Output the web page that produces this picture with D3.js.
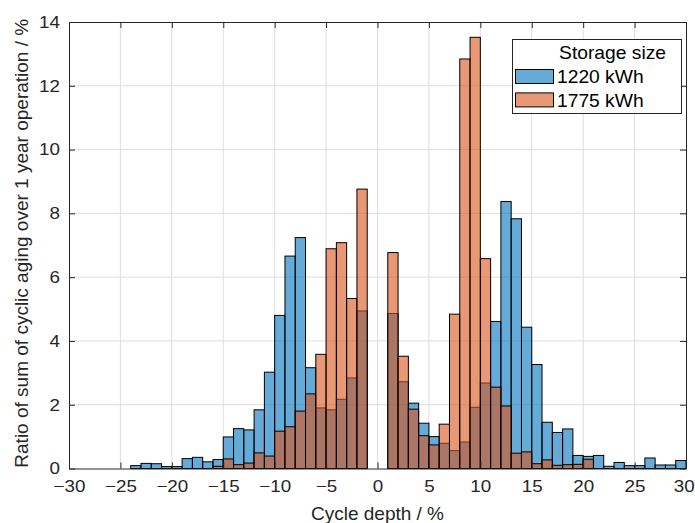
<!DOCTYPE html>
<html>
<head>
<meta charset="utf-8">
<script src="https://cdn.jsdelivr.net/npm/d3@7"></script>
<style>
  body { margin: 0; background: #fff; }
  svg { font-family: "Liberation Sans", Arial, sans-serif; }
</style>
</head>
<body>
<svg id="chart" width="695" height="523"></svg>
<script>
// bin left edges (width 1) and values in %
const binsNeg = [-24, -23, -22, -21, -20, -19, -18, -17, -16, -15, -14, -13, -12, -11, -10, -9, -8, -7, -6, -5, -4, -3, -2];
const binsPos = [1, 2, 3, 4, 5, 6, 7, 8, 9, 10, 11, 12, 13, 14, 15, 16, 17, 18, 19, 20, 21, 22, 23, 24, 25, 26, 27, 28, 29];
const blueNeg = [0.09, 0.16, 0.15, 0.06, 0.06, 0.31, 0.35, 0.21, 0.28, 0.99, 1.25, 1.21, 1.84, 3.02, 4.80, 6.66, 7.24, 3.16, 1.90, 1.84, 2.17, 2.84, 4.94];
const bluePos = [4.86, 2.72, 2.05, 1.42, 1.00, 0.79, 0.56, 0.83, 1.92, 2.68, 4.61, 8.37, 7.83, 4.43, 3.26, 1.45, 1.13, 1.24, 0.41, 0.38, 0.41, 0.07, 0.19, 0.09, 0.09, 0.33, 0.11, 0.11, 0.25];
const orangeNeg = [0, 0, 0, 0, 0, 0, 0, 0, 0.07, 0.30, 0.12, 0.17, 0.49, 0.39, 1.17, 1.31, 1.80, 2.34, 3.58, 6.89, 7.08, 5.33, 8.76];
const orangePos = [6.77, 3.52, 1.86, 1.03, 0.74, 1.39, 4.84, 12.84, 13.52, 6.58, 2.55, 1.96, 0.48, 0.52, 0.15, 0.27, 0.10, 0.12, 0.13, 0.29, 0, 0, 0, 0, 0, 0, 0, 0, 0];
const xTicks = [-30, -25, -20, -15, -10, -5, 0, 5, 10, 15, 20, 25, 30];
const yTicks = [0, 2, 4, 6, 8, 10, 12, 14];
const seriesNames = ["1220 kWh", "1775 kWh"];
const legendTitle = "Storage size";

const bins = binsNeg.concat(binsPos);
const series = [
  {name: seriesNames[0], color: "rgb(0,114,189)", values: blueNeg.concat(bluePos)},
  {name: seriesNames[1], color: "rgb(217,83,25)", values: orangeNeg.concat(orangePos)}
];

const pLeft = 69, pRight = 686, pTop = 22, pBottom = 468.5;
const axisColor = "#262626";
const svg = d3.select("#chart");

// text in the original is a bit wider than Liberation Sans
const tickSize = 16.5, tickStretch = 1.14;
const labelSize = 19;
const legSize = 17.5, legStretch = 1.1;

const x = d3.scaleLinear().domain([-30, 30]).range([pLeft, pRight]);
const y = d3.scaleLinear().domain([0, 14]).range([pBottom, pTop]);

// grid
const grid = svg.append("g").attr("stroke", "#dedede").attr("stroke-width", 1);
grid.selectAll("line.gx").data(xTicks.slice(1, -1)).join("line")
  .attr("x1", d => x(d)).attr("x2", d => x(d)).attr("y1", pTop).attr("y2", pBottom);
grid.selectAll("line.gy").data(yTicks.slice(1, -1)).join("line")
  .attr("y1", d => y(d)).attr("y2", d => y(d)).attr("x1", pLeft).attr("x2", pRight);

// bars
for (const s of series) {
  const data = bins.map((b, i) => ({b: b, v: s.values[i]})).filter(d => d.v > 0);
  svg.append("g").selectAll("rect").data(data).join("rect")
    .attr("x", d => x(d.b))
    .attr("width", d => x(d.b + 1) - x(d.b))
    .attr("y", d => y(d.v))
    .attr("height", d => y(0) - y(d.v))
    .attr("fill", s.color)
    .attr("fill-opacity", 0.6)
    .attr("stroke", "#000")
    .attr("stroke-width", 1);
}

// axes (box with inner ticks on all sides)
const tl = 6;
const fmt = d3.format("d");
const xb = svg.append("g").attr("transform", `translate(0,${pBottom})`)
  .call(d3.axisBottom(x).tickValues(xTicks).tickSizeInner(-tl).tickSizeOuter(0).tickPadding(12).tickFormat(fmt));
const xt = svg.append("g").attr("transform", `translate(0,${pTop})`)
  .call(d3.axisTop(x).tickValues(xTicks).tickSizeInner(-tl).tickSizeOuter(0).tickFormat(""));
const yl = svg.append("g").attr("transform", `translate(${pLeft},0)`)
  .call(d3.axisLeft(y).tickValues(yTicks).tickSizeInner(-tl).tickSizeOuter(0).tickFormat(fmt));
const yr = svg.append("g").attr("transform", `translate(${pRight},0)`)
  .call(d3.axisRight(y).tickValues(yTicks).tickSizeInner(-tl).tickSizeOuter(0).tickFormat(""));

for (const g of [xb, xt, yl, yr]) {
  g.select(".domain").attr("stroke", axisColor).attr("stroke-width", 1);
  g.selectAll(".tick line").attr("stroke", axisColor);
  g.selectAll(".tick text").attr("fill", axisColor).style("font-size", tickSize + "px")
    .style("font-family", '"Liberation Sans", Arial, sans-serif')
    .attr("transform", `scale(${tickStretch},1)`);
}
yl.selectAll(".tick text").attr("x", -9 / tickStretch);
// keep the last x label inside the page
xb.selectAll(".tick text").filter(d => d === 30).attr("x", -2);

// axis titles
svg.append("text")
  .attr("x", (pLeft + pRight) / 2).attr("y", 520)
  .attr("text-anchor", "middle").attr("fill", axisColor)
  .style("font-size", labelSize + "px")
  .text("Cycle depth / %");
svg.append("text")
  .attr("transform", `translate(28,${(pTop + pBottom) / 2 - 2}) rotate(-90)`)
  .attr("text-anchor", "middle").attr("fill", axisColor)
  .style("font-size", labelSize + "px")
  .text("Ratio of sum of cyclic aging over 1 year operation / %");

// legend
const lg = svg.append("g");
lg.append("rect")
  .attr("x", 512.5).attr("y", 39.5).attr("width", 169).attr("height", 74)
  .attr("fill", "#fff").attr("stroke", axisColor).attr("stroke-width", 1);
lg.append("text")
  .attr("x", 666 / legStretch).attr("y", 59).attr("text-anchor", "end").attr("fill", "#000")
  .attr("transform", `scale(${legStretch},1)`)
  .style("font-size", legSize + "px")
  .text(legendTitle);
lg.selectAll("g.item").data(series).join("g")
  .attr("transform", (d, i) => `translate(0,${i * 23.4})`)
  .each(function(d) {
    const g = d3.select(this);
    g.append("rect")
      .attr("x", 515.5).attr("y", 69.5).attr("width", 38).attr("height", 14)
      .attr("fill", d.color).attr("fill-opacity", 0.6)
      .attr("stroke", "#000").attr("stroke-width", 1);
    g.append("text")
      .attr("x", 557 / legStretch).attr("y", 83.3).attr("fill", "#000")
      .attr("transform", `scale(${legStretch},1)`)
      .style("font-size", legSize + "px")
      .text(d.name);
  });
</script>
</body>
</html>
